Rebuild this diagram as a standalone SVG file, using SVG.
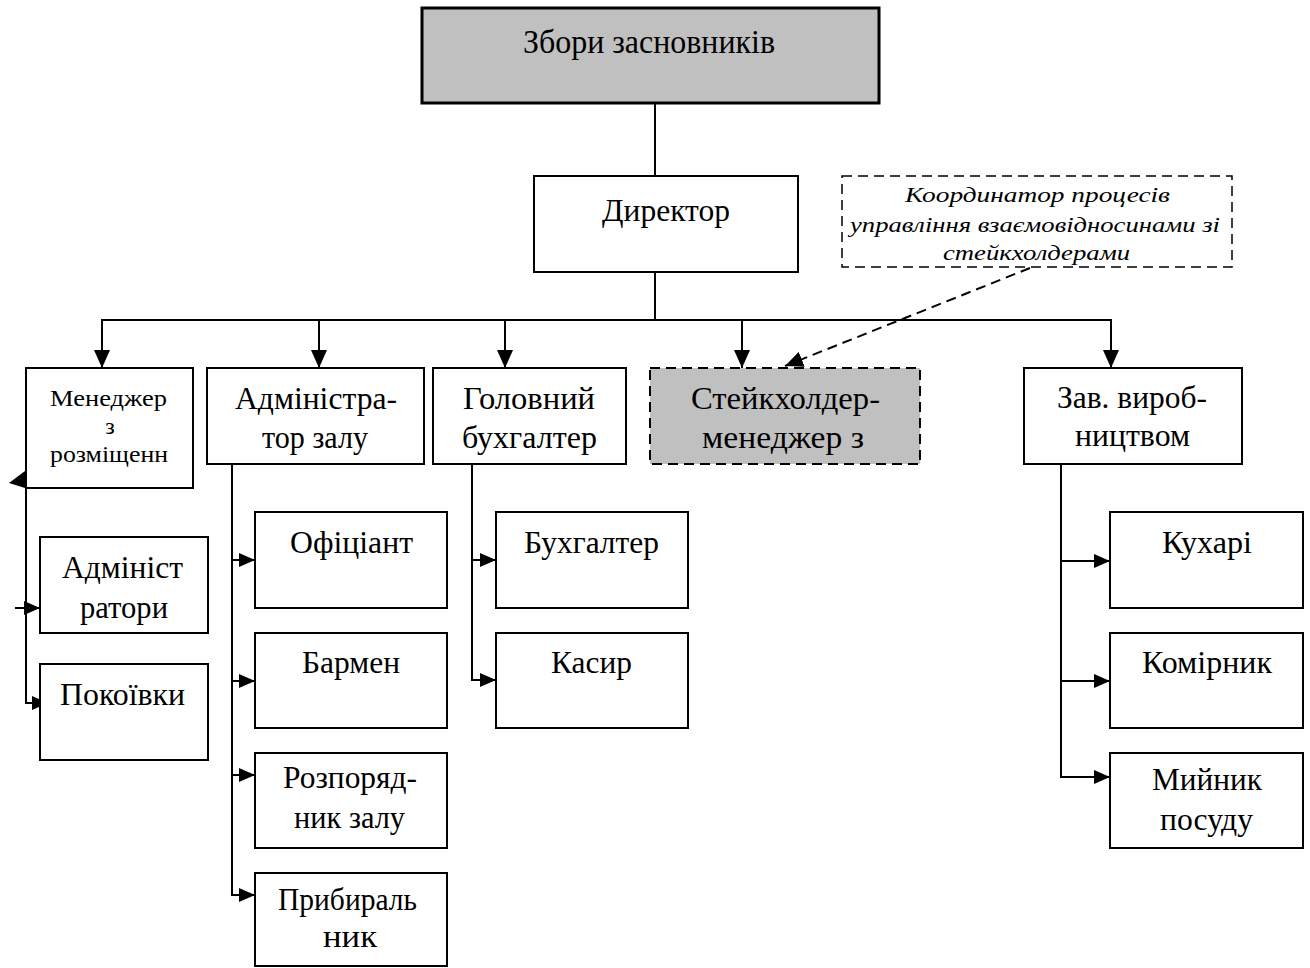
<svg xmlns="http://www.w3.org/2000/svg" width="1310" height="968" viewBox="0 0 1310 968" font-family="'Liberation Serif', 'Times New Roman', serif">
<defs>
<style>
.box{fill:#ffffff;stroke:#000;stroke-width:2}
.gray{fill:#c0c0c0;stroke:#000;stroke-width:2}
.dash{stroke-dasharray:10 6}
.ln{fill:none;stroke:#000;stroke-width:2}
.t{font-size:32px;fill:#000}
.s{font-size:24px}
.i{font-style:italic;font-size:22px}
</style>
<marker id="ad" markerUnits="userSpaceOnUse" markerWidth="18" markerHeight="16" refX="18" refY="8" orient="auto">
<path d="M0,0 L18,8 L0,16 z" fill="#000"/>
</marker>
<marker id="as" markerUnits="userSpaceOnUse" markerWidth="16" markerHeight="14" refX="16" refY="7" orient="auto">
<path d="M0,0 L16,7 L0,14 z" fill="#000"/>
</marker>
</defs>
<rect width="1310" height="968" fill="#ffffff"/>

<g id="connectors">
<line class="ln" x1="655" y1="103" x2="655" y2="176"/>
<line class="ln" x1="655" y1="272" x2="655" y2="320"/>
<line class="ln" x1="101" y1="320" x2="1112" y2="320"/>
<line class="ln" x1="102" y1="320" x2="102" y2="368" marker-end="url(#ad)"/>
<line class="ln" x1="319" y1="320" x2="319" y2="368" marker-end="url(#ad)"/>
<line class="ln" x1="505" y1="320" x2="505" y2="368" marker-end="url(#ad)"/>
<line class="ln" x1="742" y1="320" x2="742" y2="368" marker-end="url(#ad)"/>
<line class="ln" x1="1111" y1="320" x2="1111" y2="368" marker-end="url(#ad)"/>
<line class="ln dash" x1="1030" y1="268" x2="785" y2="366" marker-end="url(#ad)"/>
<line class="ln" x1="26" y1="488" x2="26" y2="704"/>
<polygon points="25,471 25,488 9,483" fill="#000"/>
<line class="ln" x1="15" y1="608" x2="40" y2="608" marker-end="url(#as)"/>
<line class="ln" x1="25" y1="703" x2="48" y2="703" marker-end="url(#as)"/>
<line class="ln" x1="232" y1="464" x2="232" y2="896"/>
<line class="ln" x1="231" y1="560" x2="255" y2="560" marker-end="url(#as)"/>
<line class="ln" x1="231" y1="681" x2="255" y2="681" marker-end="url(#as)"/>
<line class="ln" x1="231" y1="775" x2="255" y2="775" marker-end="url(#as)"/>
<line class="ln" x1="231" y1="895" x2="255" y2="895" marker-end="url(#as)"/>
<line class="ln" x1="472" y1="464" x2="472" y2="681"/>
<line class="ln" x1="471" y1="560" x2="496" y2="560" marker-end="url(#as)"/>
<line class="ln" x1="471" y1="680" x2="496" y2="680" marker-end="url(#as)"/>
<line class="ln" x1="1061" y1="464" x2="1061" y2="778"/>
<line class="ln" x1="1060" y1="561" x2="1110" y2="561" marker-end="url(#as)"/>
<line class="ln" x1="1060" y1="681" x2="1110" y2="681" marker-end="url(#as)"/>
<line class="ln" x1="1060" y1="777" x2="1110" y2="777" marker-end="url(#as)"/>
</g>

<g id="n-zbory">
<rect x="422" y="8" width="457" height="95" class="gray" style="stroke-width:3"/>
<text class="t" x="523" y="53" style="font-size:33px" textLength="252" lengthAdjust="spacingAndGlyphs">Збори засновників</text>
</g>
<g id="n-director">
<rect x="534" y="176" width="264" height="96" class="box"/>
<text class="t" x="602" y="221" textLength="128" lengthAdjust="spacingAndGlyphs">Директор</text>
</g>
<g id="n-coordinator">
<rect x="842" y="176" width="390" height="91" class="box dash" style="stroke-width:1.5"/>
<text class="t i" x="905" y="202" textLength="265" lengthAdjust="spacingAndGlyphs">Координатор  процесів</text>
<text class="t i" x="850" y="232" textLength="370" lengthAdjust="spacingAndGlyphs">управління взаємовідносинами зі</text>
<text class="t i" x="943" y="260" textLength="187" lengthAdjust="spacingAndGlyphs">стейкхолдерами</text>
</g>
<g id="n-manager">
<rect x="26" y="368" width="167" height="120" class="box"/>
<text class="t s" x="50" y="406" textLength="117" lengthAdjust="spacingAndGlyphs">Менеджер</text>
<text class="t s" x="110" y="434" text-anchor="middle">з</text>
<text class="t s" x="50" y="462" textLength="118" lengthAdjust="spacingAndGlyphs">розміщенн</text>
</g>
<g id="n-admin-zalu">
<rect x="207" y="368" width="217" height="96" class="box"/>
<text class="t" x="235" y="409" textLength="162" lengthAdjust="spacingAndGlyphs">Адміністра-</text>
<text class="t" x="262" y="448" textLength="106" lengthAdjust="spacingAndGlyphs">тор залу</text>
</g>
<g id="n-golovnyi">
<rect x="433" y="368" width="193" height="96" class="box"/>
<text class="t" x="463" y="409" textLength="132" lengthAdjust="spacingAndGlyphs">Головний</text>
<text class="t" x="462" y="448" textLength="135" lengthAdjust="spacingAndGlyphs">бухгалтер</text>
</g>
<g id="n-stakeholder">
<rect x="650" y="368" width="270" height="96" class="gray dash"/>
<text class="t" x="691" y="409" textLength="189" lengthAdjust="spacingAndGlyphs">Стейкхолдер-</text>
<text class="t" x="702" y="448" textLength="162" lengthAdjust="spacingAndGlyphs">менеджер з</text>
</g>
<g id="n-zav">
<rect x="1024" y="368" width="218" height="96" class="box"/>
<text class="t" x="1057" y="408" textLength="150" lengthAdjust="spacingAndGlyphs">Зав. вироб-</text>
<text class="t" x="1075" y="446" textLength="115" lengthAdjust="spacingAndGlyphs">ництвом</text>
</g>
<g id="n-administratory">
<rect x="40" y="537" width="168" height="96" class="box"/>
<text class="t" x="62" y="578" textLength="121" lengthAdjust="spacingAndGlyphs">Адмініст</text>
<text class="t" x="80" y="618" textLength="88" lengthAdjust="spacingAndGlyphs">ратори</text>
</g>
<g id="n-pokoivky">
<rect x="40" y="664" width="168" height="96" class="box"/>
<text class="t" x="60" y="705" textLength="125" lengthAdjust="spacingAndGlyphs">Покоївки</text>
</g>
<g id="n-ofitsiant">
<rect x="255" y="512" width="192" height="96" class="box"/>
<text class="t" x="290" y="553" textLength="123" lengthAdjust="spacingAndGlyphs">Офіціант</text>
</g>
<g id="n-barmen">
<rect x="255" y="633" width="192" height="95" class="box"/>
<text class="t" x="302" y="673" textLength="98" lengthAdjust="spacingAndGlyphs">Бармен</text>
</g>
<g id="n-rozporiadnyk">
<rect x="255" y="753" width="192" height="95" class="box"/>
<text class="t" x="283" y="788" textLength="134" lengthAdjust="spacingAndGlyphs">Розпоряд-</text>
<text class="t" x="294" y="828" textLength="111" lengthAdjust="spacingAndGlyphs">ник залу</text>
</g>
<g id="n-prybyralnyk">
<rect x="255" y="873" width="192" height="93" class="box"/>
<text class="t" x="278" y="910" textLength="139" lengthAdjust="spacingAndGlyphs">Прибираль</text>
<text class="t" x="323" y="947" textLength="54" lengthAdjust="spacingAndGlyphs">ник</text>
</g>
<g id="n-bukhgalter">
<rect x="496" y="512" width="192" height="96" class="box"/>
<text class="t" x="524" y="553" textLength="135" lengthAdjust="spacingAndGlyphs">Бухгалтер</text>
</g>
<g id="n-kasyr">
<rect x="496" y="633" width="192" height="95" class="box"/>
<text class="t" x="551" y="673" textLength="81" lengthAdjust="spacingAndGlyphs">Касир</text>
</g>
<g id="n-kukhari">
<rect x="1110" y="512" width="193" height="96" class="box"/>
<text class="t" x="1162" y="553" textLength="90" lengthAdjust="spacingAndGlyphs">Кухарі</text>
</g>
<g id="n-komirnyk">
<rect x="1110" y="633" width="193" height="95" class="box"/>
<text class="t" x="1142" y="673" textLength="130" lengthAdjust="spacingAndGlyphs">Комірник</text>
</g>
<g id="n-myinyk">
<rect x="1110" y="753" width="193" height="95" class="box"/>
<text class="t" x="1152" y="790" textLength="110" lengthAdjust="spacingAndGlyphs">Мийник</text>
<text class="t" x="1160" y="830" textLength="93" lengthAdjust="spacingAndGlyphs">посуду</text>
</g>
</svg>
